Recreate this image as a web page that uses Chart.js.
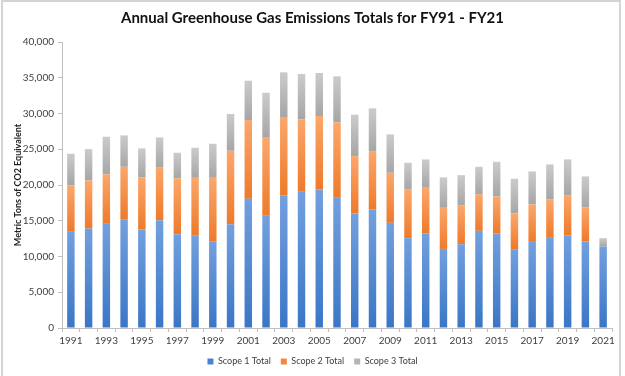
<!DOCTYPE html>
<html>
<head>
<meta charset="utf-8">
<script src="https://cdn.jsdelivr.net/npm/chart.js@4/dist/chart.umd.min.js"></script>
<style>
  html, body { margin: 0; padding: 0; background: #fff; }
  #wrap { position: relative; width: 625px; height: 376px; }
  #frame {
    position: absolute; left: 1px; top: 0; width: 620px; height: 380px;
    border: 2px solid #d4d4d4; box-sizing: border-box; pointer-events: none;
  }
</style>
</head>
<body>
<div id="wrap">
  <canvas id="emissions-chart" width="625" height="376"></canvas>
  <div id="frame"></div>
</div>
<script>
// Fiscal years
const years = [
  '1991', '1992', '1993', '1994', '1995', '1996', '1997', '1998', '1999', '2000',
  '2001', '2002', '2003', '2004', '2005', '2006', '2007', '2008', '2009', '2010',
  '2011', '2012', '2013', '2014', '2015', '2016', '2017', '2018', '2019', '2020', '2021'
];

// Metric tons CO2e
const scope1 = [
  13450, 13910, 14570, 15220, 13770, 15080, 13120, 12980, 12140, 14500,
  18070, 15690, 18580, 19050, 19370, 18210, 16010, 16570, 14710, 12560,
  13210, 11060, 11720, 13590, 13260, 11020, 12040, 12610, 12930, 12090, 11390
];
const scope2 = [
  6480, 6720, 6910, 7330, 7290, 7420, 7800, 8030, 8870, 10290,
  11010, 10920, 10930, 10130, 10280, 10550, 8030, 8170, 7000, 6810,
  6400, 5750, 5460, 5130, 5130, 4990, 5230, 5410, 5650, 4760, 0
];
const scope3 = [
  4440, 4390, 5270, 4390, 4060, 4160, 3590, 4200, 4760, 5140,
  5510, 6300, 6250, 6350, 6020, 6440, 5790, 5980, 5370, 3740,
  3970, 4250, 4200, 3830, 4860, 4860, 4630, 4860, 5000, 4350, 1170
];

const seriesNames = ['Scope 1 Total', 'Scope 2 Total', 'Scope 3 Total'];
const series = [scope1, scope2, scope3];
const yTitle = 'Metric Tons of CO2 Equivalent';

// [top of segment, bottom of segment]
const shades = [
  ['#73a0de', '#3a76c6'],
  ['#fba76c', '#ee7a2a'],
  ['#cbcbcb', '#a6a6a6']
];
const legendColors = ['#4a82d0', '#f4883d', '#b4b4b4'];

const textColor = '#404040';
const axisColor = '#bfbfbf';

// each stacked segment gets its own top-to-bottom gradient
function segmentGradient(d) {
  return function(context) {
    const chart = context.chart;
    const y = chart.scales.y;
    if (context.type !== 'data' || !y || !chart.chartArea) return shades[d][1];
    const i = context.dataIndex;
    let base = 0;
    for (let k = 0; k < d; k++) base += series[k][i];
    const top = y.getPixelForValue(base + series[d][i]);
    const bottom = y.getPixelForValue(base);
    if (!isFinite(top) || !isFinite(bottom) || bottom - top < 1) return shades[d][1];
    const g = chart.ctx.createLinearGradient(0, top, 0, bottom);
    g.addColorStop(0, shades[d][0]);
    g.addColorStop(1, shades[d][1]);
    return g;
  };
}

// rotated y axis title, placed a fixed distance left of the axis line
const yTitlePlugin = {
  id: 'yTitle',
  afterDraw(chart) {
    const area = chart.chartArea;
    const c = chart.ctx;
    c.save();
    c.translate(area.left - 44, (area.top + area.bottom) / 2);
    c.rotate(-Math.PI / 2);
    c.font = 'bold 9px Lato';
    c.fillStyle = '#222';
    c.textAlign = 'center';
    c.textBaseline = 'middle';
    c.fillText(yTitle, 0, 0);
    c.restore();
  }
};

const ctx = document.getElementById('emissions-chart').getContext('2d');

new Chart(ctx, {
  type: 'bar',
  data: {
    labels: years,
    datasets: series.map((values, d) => ({
      label: seriesNames[d],
      data: values,
      backgroundColor: segmentGradient(d),
      borderWidth: 0,
      categoryPercentage: 1,
      barPercentage: 0.42
    }))
  },
  options: {
    responsive: false,
    animation: false,
    layout: {
      padding: { left: 13, right: 13, top: 0, bottom: 0 }
    },
    scales: {
      x: {
        stacked: true,
        afterFit: function(scale) {
          scale.height = 19;
        },
        grid: {
          offset: true,
          drawOnChartArea: false,
          drawTicks: true,
          tickLength: 4,
          color: axisColor
        },
        border: { color: axisColor, width: 1 },
        ticks: {
          autoSkip: false,
          maxRotation: 0,
          padding: 3,
          color: textColor,
          font: { family: 'Lato', size: 10 },
          callback: function(value, index) {
            return index % 2 === 0 ? years[index] : '';
          }
        }
      },
      y: {
        stacked: true,
        min: 0,
        max: 40000,
        afterFit: function(scale) {
          scale.width = 49;
        },
        grid: {
          drawOnChartArea: false,
          drawTicks: true,
          tickLength: 4,
          color: axisColor
        },
        border: { color: axisColor, width: 1 },
        ticks: {
          stepSize: 5000,
          padding: 4,
          color: textColor,
          font: { family: 'Lato', size: 10 },
          callback: function(value) {
            return value.toLocaleString('en-US');
          }
        }
      }
    },
    plugins: {
      title: {
        display: true,
        text: 'Annual Greenhouse Gas Emissions Totals for FY91 - FY21',
        color: '#111',
        padding: { top: 9, bottom: 15 },
        font: { family: 'Lato', size: 15, weight: 'bold' }
      },
      legend: {
        position: 'bottom',
        labels: {
          boxWidth: 6,
          boxHeight: 6,
          padding: 10,
          color: textColor,
          font: { family: 'Lato', size: 9 },
          generateLabels: function(chart) {
            return seriesNames.map((name, d) => ({
              text: name,
              fillStyle: legendColors[d],
              strokeStyle: legendColors[d],
              lineWidth: 0,
              fontColor: textColor,
              datasetIndex: d,
              hidden: false
            }));
          }
        }
      },
      tooltip: { enabled: false }
    }
  },
  plugins: [yTitlePlugin]
});
</script>
</body>
</html>
